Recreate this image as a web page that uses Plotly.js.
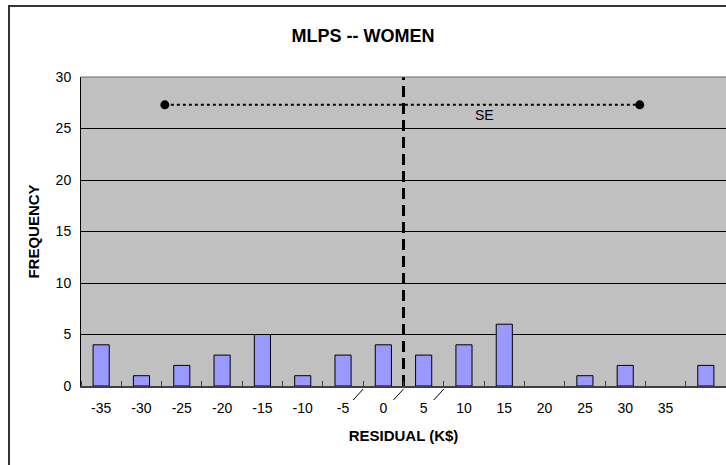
<!DOCTYPE html>
<html>
<head>
<meta charset="utf-8">
<script src="https://cdn.plot.ly/plotly-3.0.1.min.js"></script>
<style>
  html, body { margin: 0; padding: 0; background: #fff; }
  #wrap { position: relative; width: 726px; height: 465px; overflow: hidden; }
  #chart { position: absolute; left: 0; top: 0; width: 726px; height: 465px; }
  #frame { position: absolute; left: 8px; top: 5px; width: 740px; height: 458px;
           border-left: 2px solid #333; border-top: 2px solid #333; border-bottom: 1px solid #e4e4e4;
           pointer-events: none; }
</style>
</head>
<body>
<div id="wrap">
  <div id="chart"></div>
  <div id="frame"></div>
</div>
<script>
// ---- data ----
const binCenters = [-35, -30, -25, -20, -15, -10, -5, 0, 5, 10, 15, 20, 25, 30, 35, 40];
const frequency  = [4, 1, 2, 3, 5, 1, 3, 4, 3, 4, 6, 0, 1, 2, 0, 2];
const tickValues = [-35, -30, -25, -20, -15, -10, -5, 0, 5, 10, 15, 20, 25, 30, 35];
const tickLabels = ['-35', '-30', '-25', '-20', '-15', '-10', '-5', '0', '5', '10', '15', '20', '25', '30', '35'];
const meanResidual = 2.5;
const seX = [-27.1, 31.8];
const seY = [27.3, 27.3];
const seLabel = {x: 12.5, y: 26.3, text: 'SE'};
const breakMarks = [-2.5, 2.5, 7.5];

const FONT = 'Arial, "Liberation Sans", sans-serif';

const traces = [
  {
    type: 'bar',
    x: binCenters,
    y: frequency,
    width: 2.0,
    marker: {color: '#9999FF', line: {color: '#000000', width: frequency.map(function (v) { return v > 0 ? 1 : 0; })}},
    hoverinfo: 'skip'
  },
  {
    type: 'scatter',
    mode: 'lines',
    x: [meanResidual, meanResidual],
    y: [0, 30],
    line: {color: '#000000', width: 3, dash: '11px,6px'},
    hoverinfo: 'skip'
  },
  {
    type: 'scatter',
    mode: 'lines+markers',
    x: seX,
    y: seY,
    line: {color: '#000000', width: 2, dash: 'dot'},
    marker: {color: '#000000', size: 9},
    hoverinfo: 'skip'
  }
];

const shapes = [
  {type: 'line', xref: 'paper', yref: 'paper', x0: 0, x1: 1, y0: 1, y1: 1,
   line: {color: '#6a6a6a', width: 1}}
];
breakMarks.forEach(function (bx) {
  shapes.push({
    type: 'line', xref: 'x', yref: 'paper',
    xsizemode: 'pixel', xanchor: bx, x0: 0, x1: -10,
    ysizemode: 'pixel', yanchor: 0, y0: -3, y1: -14,
    line: {color: '#000000', width: 1}
  });
});

const layout = {
  width: 726,
  height: 465,
  margin: {l: 81, r: 0, t: 77, b: 79, pad: 0},
  paper_bgcolor: '#ffffff',
  plot_bgcolor: '#C0C0C0',
  showlegend: false,
  font: {family: FONT, size: 14, color: '#000000'},
  title: {
    text: '<b>MLPS -- WOMEN</b>',
    font: {family: FONT, size: 18, color: '#000000'},
    xref: 'container', x: 0.5, xanchor: 'center',
    yref: 'container', y: 1 - 36 / 465, yanchor: 'middle'
  },
  xaxis: {
    range: [-37.5, 42.5],
    tickmode: 'array',
    tickvals: tickValues,
    ticktext: tickLabels,
    ticks: '',
    ticklabelstandoff: 8,
    showgrid: false,
    zeroline: false,
    showline: true,
    linecolor: '#404040',
    linewidth: 2,
    minor: {tick0: -32.5, dtick: 5, ticks: 'inside', ticklen: 5, tickwidth: 1, tickcolor: '#404040', showgrid: false},
    tickfont: {family: FONT, size: 14, color: '#000000'},
    title: {text: '<b>RESIDUAL (K$)</b>', font: {family: FONT, size: 15, color: '#000000'}, standoff: 16},
    fixedrange: true
  },
  yaxis: {
    range: [0, 30],
    tickmode: 'array',
    tickvals: [0, 5, 10, 15, 20, 25, 30],
    ticks: 'inside',
    ticklen: 5,
    tickcolor: '#000000',
    ticklabelstandoff: 6,
    showgrid: true,
    gridcolor: '#000000',
    gridwidth: 1,
    zeroline: false,
    showline: true,
    linecolor: '#000000',
    linewidth: 1,
    tickfont: {family: FONT, size: 14, color: '#000000'},
    title: {text: '<b>FREQUENCY</b>', font: {family: FONT, size: 15, color: '#000000'}, standoff: 12},
    fixedrange: true
  },
  shapes: shapes,
  annotations: [
    {x: seLabel.x, y: seLabel.y, xref: 'x', yref: 'y', text: seLabel.text, showarrow: false,
     font: {family: FONT, size: 14, color: '#000000'}}
  ]
};

Plotly.newPlot('chart', traces, layout, {displayModeBar: false, staticPlot: true});
</script>
</body>
</html>
